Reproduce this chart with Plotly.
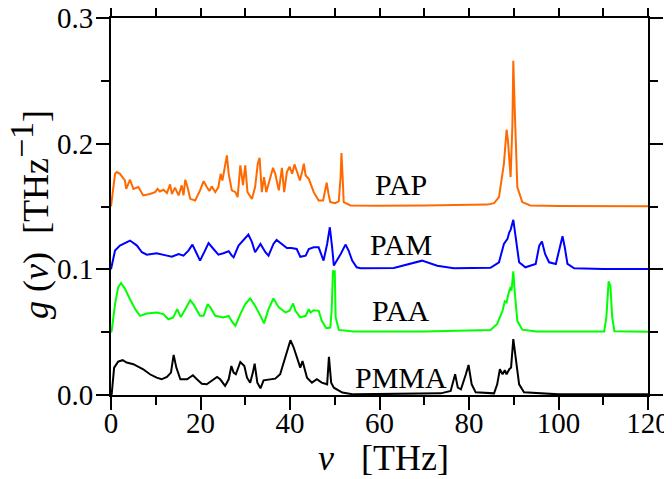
import plotly.graph_objects as go

# ---- data (x in THz, y in THz^-1, curves offset by 0.05) ----
pap = [(0, 0.150), (0.9, 0.176), (1.3, 0.1774), (2.0, 0.176), (3.1, 0.1707), (3.4, 0.164), (4.25, 0.1713),
       (5.0, 0.164), (6.1, 0.1655), (7.2, 0.1588), (8.7, 0.160), (9.85, 0.1614), (10.4, 0.164), (10.9, 0.162),
       (11.7, 0.1633), (12.5, 0.1607), (13.2, 0.1676), (13.6, 0.160), (14.3, 0.165), (15.1, 0.1588),
       (15.8, 0.1668), (16.2, 0.1588), (16.6, 0.1713), (17.1, 0.1655), (17.7, 0.1561), (18.8, 0.1548),
       (19.9, 0.1628), (20.7, 0.1702), (21.4, 0.1655), (22.0, 0.1623), (22.5, 0.166), (23.3, 0.1614),
       (24.0, 0.1655), (24.5, 0.176), (24.9, 0.1707), (25.5, 0.184), (25.9, 0.1907), (26.3, 0.176),
       (27.0, 0.1628), (27.8, 0.1614), (28.3, 0.1575), (28.9, 0.1827), (29.5, 0.167), (30.0, 0.1827),
       (30.5, 0.1614), (31.5, 0.156), (32.2, 0.1655), (32.8, 0.184), (33.2, 0.1888), (33.7, 0.1614),
       (34.2, 0.1733), (34.7, 0.1614), (35.6, 0.172), (36.2, 0.1808), (36.7, 0.176), (37.5, 0.1628),
       (38.2, 0.1808), (38.7, 0.1614), (39.3, 0.1774), (39.9, 0.1817), (40.5, 0.176), (41.0, 0.1835),
       (41.6, 0.1774), (42.2, 0.1707), (42.7, 0.1774), (43.1, 0.184), (43.5, 0.1747), (44.2, 0.172),
       (45.3, 0.1614), (46.4, 0.1548), (47.4, 0.1548), (47.9, 0.1628), (48.2, 0.1689), (48.6, 0.160),
       (49.0, 0.1535), (50.1, 0.1527), (50.9, 0.1543), (51.3, 0.1733), (51.5, 0.1926), (51.8, 0.1707),
       (52.0, 0.1535), (53.5, 0.1508), (60, 0.1505), (70, 0.1507), (80, 0.1512), (84.1, 0.1515),
       (85.6, 0.1527), (86.7, 0.1575), (87.8, 0.184), (88.4, 0.2111), (88.7, 0.2027), (89.3, 0.1734),
       (89.7, 0.215), (89.9, 0.266), (90.2, 0.2293), (90.8, 0.1654), (91.9, 0.1535), (93.7, 0.1508),
       (100, 0.1503), (110, 0.1502), (120, 0.1502)]

pam = [(0, 0.100), (0.3, 0.106), (0.9, 0.1149), (2.0, 0.1189), (4.25, 0.1229), (5.8, 0.1189), (6.9, 0.1136),
       (8.0, 0.1117), (10.2, 0.1128), (12.5, 0.1109), (13.6, 0.110), (15.1, 0.1122), (16.2, 0.1109),
       (17.3, 0.1149), (18.2, 0.1197), (19.2, 0.1122), (19.9, 0.1069), (21.0, 0.1149), (21.8, 0.1208),
       (22.9, 0.1162), (24.0, 0.1117), (25.1, 0.1128), (26.3, 0.1144), (27.0, 0.1109), (27.4, 0.1096),
       (28.5, 0.1189), (29.6, 0.1229), (30.7, 0.1277), (31.5, 0.1216), (32.2, 0.1136), (33.4, 0.1202),
       (34.5, 0.1136), (35.2, 0.1109), (36.3, 0.1202), (37.0, 0.1234), (38.2, 0.1202), (39.3, 0.117),
       (40.3, 0.117), (41.5, 0.1162), (42.3, 0.110), (43.5, 0.1109), (44.2, 0.1162), (45.3, 0.1175),
       (46.4, 0.1175), (47.0, 0.112), (47.5, 0.1069), (48.3, 0.1202), (48.9, 0.1335), (49.4, 0.118),
       (49.8, 0.103), (51.3, 0.112), (52.4, 0.1197), (53.1, 0.1149), (53.9, 0.107), (54.9, 0.1016),
       (55.8, 0.1008), (63.2, 0.101), (66.2, 0.1037), (69.5, 0.1069), (72.9, 0.1029), (76.6, 0.1008),
       (84.8, 0.1012), (86.7, 0.1056), (87.8, 0.1202), (88.6, 0.1242), (89.0, 0.1295), (89.3, 0.1314),
       (89.9, 0.1394), (90.5, 0.1229), (91.2, 0.1056), (92.6, 0.1016), (94.9, 0.1043), (95.7, 0.1189),
       (96.3, 0.1221), (97.0, 0.1122), (97.9, 0.1056), (99.4, 0.1043), (100.3, 0.1176), (100.9, 0.1263),
       (101.4, 0.1176), (102.0, 0.1043), (103.5, 0.1008), (110, 0.1003), (120, 0.1003)]

paa = [(0, 0.050), (0.15, 0.051), (0.9, 0.0723), (1.6, 0.0856), (2.24, 0.0891), (3.1, 0.0847), (4.25, 0.0762),
       (5.4, 0.0683), (6.5, 0.063), (8.0, 0.0649), (10.2, 0.0657), (11.7, 0.0644), (12.8, 0.0603),
       (13.9, 0.0617), (14.8, 0.0683), (15.6, 0.062), (16.6, 0.0683), (17.7, 0.0755), (18.4, 0.0723),
       (19.9, 0.063), (20.7, 0.063), (21.6, 0.0723), (22.2, 0.0697), (23.3, 0.063), (25.1, 0.0617),
       (26.3, 0.063), (27.0, 0.0585), (27.8, 0.0551), (28.9, 0.0644), (30.0, 0.0723), (31.1, 0.0768),
       (32.2, 0.071), (33.4, 0.063), (34.2, 0.057), (35.2, 0.0683), (36.3, 0.0768), (37.5, 0.0697),
       (39.0, 0.0657), (39.9, 0.067), (40.7, 0.0728), (41.2, 0.067), (42.3, 0.0617), (43.5, 0.063),
       (44.2, 0.0683), (44.6, 0.0657), (45.3, 0.0675), (46.4, 0.0670), (47.1, 0.059), (48.1, 0.0532),
       (49.0, 0.0537), (49.3, 0.067), (49.6, 0.0984), (50.0, 0.0984), (50.2, 0.062), (50.9, 0.0518),
       (54.2, 0.0505), (70, 0.0505), (84.8, 0.0518), (86.3, 0.0565), (87.5, 0.067), (88.0, 0.0745),
       (88.4, 0.0737), (88.8, 0.0803), (89.3, 0.0862), (89.5, 0.083), (89.9, 0.0984), (90.2, 0.083),
       (90.8, 0.059), (91.9, 0.052), (95, 0.0505), (110.2, 0.0505), (110.7, 0.062), (111.2, 0.0905),
       (111.6, 0.087), (112.0, 0.062), (112.5, 0.0508), (120, 0.0503)]

pmma = [(0, 0.0), (0.15, 0.0005), (0.7, 0.0218), (1.6, 0.0266), (2.6, 0.0277), (3.5, 0.0258), (5.0, 0.0245),
        (7.2, 0.0205), (8.7, 0.0165), (10.2, 0.0138), (11.3, 0.0125), (12.5, 0.0144), (13.4, 0.0178),
        (14.0, 0.0319), (14.6, 0.0218), (15.5, 0.0125), (17.0, 0.0125), (18.3, 0.0157), (19.2, 0.0125),
        (20.3, 0.009), (21.4, 0.0085), (22.5, 0.011), (23.7, 0.0144), (24.4, 0.0125), (25.5, 0.0072),
        (26.3, 0.0125), (26.9, 0.0231), (27.4, 0.0178), (27.9, 0.0165), (28.9, 0.0263), (29.8, 0.0231),
        (30.4, 0.0138), (31.1, 0.0098), (31.7, 0.0178), (32.1, 0.025), (32.7, 0.0098), (33.4, 0.0053),
        (34.1, 0.0117), (35.2, 0.0125), (36.7, 0.013), (37.8, 0.0165), (39.0, 0.0311), (40.1, 0.0436),
        (40.8, 0.038), (41.8, 0.027), (42.3, 0.0218), (42.8, 0.027), (43.8, 0.0138), (44.9, 0.0098),
        (46.0, 0.0125), (47.1, 0.0098), (48.3, 0.0085), (48.7, 0.0303), (49.2, 0.0098), (49.8, 0.0058),
        (51.7, 0.0019), (54.2, 0.0005), (73.7, 0.0013), (75.9, 0.0032), (76.9, 0.0165), (77.5, 0.0058),
        (78.2, 0.0045), (79.3, 0.0165), (79.9, 0.0239), (80.6, 0.0085), (81.5, 0.0021), (85.6, 0.0013),
        (86.3, 0.0085), (86.9, 0.0205), (87.5, 0.0165), (88.0, 0.0197), (88.4, 0.0165), (89.0, 0.0205),
        (89.4, 0.0218), (89.9, 0.0444), (90.5, 0.0271), (91.2, 0.0085), (92.3, 0.0021), (100, 0.0005),
        (120, 0.0005)]

series_names = ["PAP", "PAM", "PAA", "PMMA"]
series_data = [pap, pam, paa, pmma]
series_colors = ["#ff6a00", "#0000ff", "#00ff00", "#000000"]
label_pos = [(64.8, 0.1675), (64.8, 0.1198), (64.8, 0.0672), (64.8, 0.0138)]

x_ticks = [0, 20, 40, 60, 80, 100, 120]
y_ticks = [0.0, 0.1, 0.2, 0.3]
y_ticklabels = ["0.0", "0.1", "0.2", "0.3"]

FONT = "Liberation Serif"
NB = "\u00a0"

fig = go.Figure()
for name, pts, col in zip(series_names, series_data, series_colors):
    xs = [p[0] for p in pts]
    ys = [p[1] for p in pts]
    fig.add_trace(go.Scatter(x=xs, y=ys, mode="lines", name=name,
                             line=dict(color=col, width=2), showlegend=False))

annotations = []
for name, (lx, ly) in zip(series_names, label_pos):
    annotations.append(dict(x=lx, y=ly, xref="x", yref="y", text=name, showarrow=False,
                            font=dict(family=FONT, size=30, color="black"),
                            xanchor="center", yanchor="middle"))

# page has an 8px body margin; figure is sized/offset so the plot area lands where the reference has it
OFF = 8
W, H = 672 - OFF, 479 - OFF
L, R, T, B = 111 - OFF, 24, 18 - OFF, 84
pw, ph = W - L - R, H - T - B
annotations.append(dict(x=(383 - OFF - L) / pw, y=-(458 - OFF - (H - B)) / ph, xref="paper", yref="paper",
                        text="<i>ν</i>" + NB * 3 + "[THz]", showarrow=False,
                        font=dict(family=FONT, size=36, color="black"),
                        xanchor="center", yanchor="middle"))
annotations.append(dict(x=-(L - (29 - OFF)) / pw, y=1 - (215 - OFF - T) / ph, xref="paper", yref="paper",
                        text="<i>g</i>" + NB + "(<i>ν</i>)" + NB * 2 + "[THz<sup><span style='font-size:34px'>−1</span></sup>]",
                        showarrow=False, textangle=-90,
                        font=dict(family=FONT, size=36, color="black"),
                        xanchor="center", yanchor="middle"))

axis_common = dict(showline=True, linecolor="black", linewidth=2, mirror="ticks",
                   ticks="outside", ticklen=13, tickwidth=2, tickcolor="black",
                   showgrid=False, zeroline=False, ticklabeloverflow="allow",
                   tickfont=dict(family=FONT, size=29, color="black"))

fig.update_xaxes(range=[0, 120], tickvals=x_ticks, ticktext=[str(v) for v in x_ticks],
                 ticklabelstandoff=-12,
                 minor=dict(dtick=10, tick0=0, ticklen=8, tickwidth=2, tickcolor="black", ticks="outside"),
                 **axis_common)
fig.update_yaxes(range=[0, 0.3], tickvals=y_ticks, ticktext=y_ticklabels,
                 ticklabelstandoff=-3,
                 minor=dict(dtick=0.05, tick0=0, ticklen=8, tickwidth=2, tickcolor="black", ticks="outside"),
                 **axis_common)

fig.update_layout(width=W, height=H, margin=dict(l=L, r=R, t=T, b=B, autoexpand=False),
                  paper_bgcolor="white", plot_bgcolor="white",
                  annotations=annotations, font=dict(family=FONT))

fig.write_html("out.html")
